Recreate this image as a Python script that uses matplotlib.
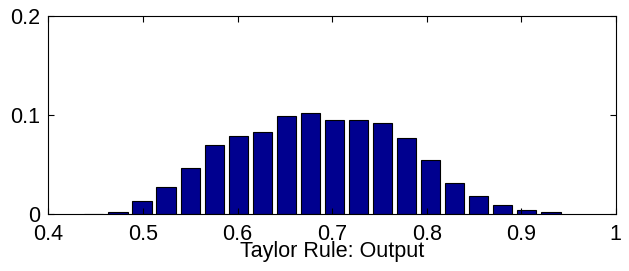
import matplotlib
matplotlib.use("Agg")
import matplotlib.pyplot as plt

# bin centres and relative frequencies
centres = [0.448, 0.4734, 0.4989, 0.5243, 0.5498, 0.5752, 0.6006, 0.6261, 0.6515, 0.6770,
           0.7024, 0.7278, 0.7533, 0.7787, 0.8042, 0.8296, 0.8550, 0.8805, 0.9059, 0.9314]
freqs = [0.0005, 0.0023, 0.0131, 0.0276, 0.0461, 0.0697, 0.0788, 0.0825, 0.0990, 0.1023,
         0.0950, 0.0950, 0.0916, 0.0771, 0.0545, 0.0310, 0.0185, 0.0094, 0.0040, 0.0023]
xticks = [0.4, 0.5, 0.6, 0.7, 0.8, 0.9, 1]
xticklabels = ["0.4", "0.5", "0.6", "0.7", "0.8", "0.9", "1"]
yticks = [0, 0.1, 0.2]
yticklabels = ["0", "0.1", "0.2"]

plt.rcParams['font.family'] = ['Liberation Sans', 'DejaVu Sans']

fig = plt.figure(figsize=(6.29, 2.71), dpi=100)
ax = fig.add_axes([0.0771, 0.2103, 0.9019, 0.7306])

step = centres[1] - centres[0]
ax.bar(centres, freqs, width=0.8 * step, color='#00008F', edgecolor='black', linewidth=0.8)

ax.set_xlim(0.4, 1)
ax.set_ylim(0, 0.2)
ax.set_xticks(xticks)
ax.set_xticklabels(xticklabels)
ax.set_yticks(yticks)
ax.set_yticklabels(yticklabels)
ax.tick_params(direction='in', length=4, width=0.8, top=True, right=True, labelsize=15.5, colors='black')
ax.tick_params(axis='x', pad=7)
ax.tick_params(axis='y', pad=6)
for s in ax.spines.values():
    s.set_linewidth(0.8)

ax.set_xlabel("Taylor Rule: Output", fontsize=15.5, va='baseline')
ax.xaxis.set_label_coords(0.5, -0.217)

fig.savefig("out.png", dpi=100)
